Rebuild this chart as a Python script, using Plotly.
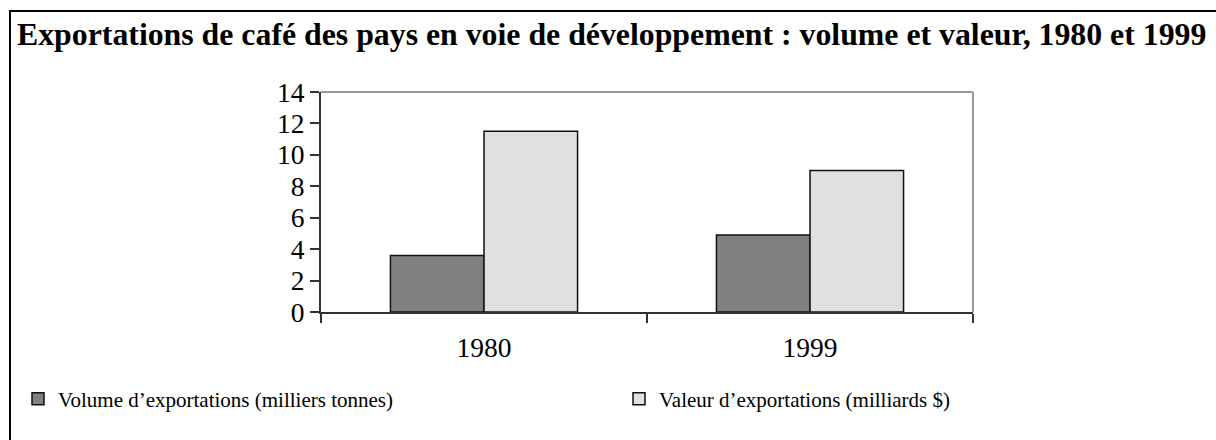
import plotly.graph_objects as go

categories = ["1980", "1999"]
volume = [3.6, 4.9]
valeur = [11.5, 9.0]
series_names = ["Volume d\u2019exportations (milliers tonnes)", "Valeur d\u2019exportations (milliards $)"]
title_text = "Exportations de café des pays en voie de développement : volume et valeur, 1980 et 1999"
y_ticks = [0, 2, 4, 6, 8, 10, 12, 14]

W, H = 1216, 440
L, R, T, B = 321, 243, 92, 128
pw, ph = W - L - R, H - T - B

def px_x(x):
    return (x - L) / pw

def px_y(y):
    return (H - B - y) / ph

serif = "Liberation Serif, Times New Roman, serif"

fig = go.Figure()
fig.add_trace(go.Bar(x=categories, y=volume, name=series_names[0], legend="legend",
                     marker=dict(color="#808080", line=dict(color="#111111", width=1.5))))
fig.add_trace(go.Bar(x=categories, y=valeur, name=series_names[1], legend="legend2",
                     marker=dict(color="#e0e0e0", line=dict(color="#111111", width=1.5))))

legend_common = dict(orientation="h", xanchor="left", yanchor="middle",
                     font=dict(family=serif, size=21, color="black"),
                     bgcolor="rgba(0,0,0,0)")

fig.update_layout(
    width=W, height=H,
    margin=dict(l=L, r=R, t=T, b=B),
    paper_bgcolor="white", plot_bgcolor="white",
    barmode="group", bargap=0.426, bargroupgap=0,
    font=dict(family=serif, color="black"),
    title=dict(text="<b>" + title_text + "</b>", xref="container", yref="container",
               x=17 / W, xanchor="left", y=1 - 34 / H, yanchor="middle",
               font=dict(family=serif, size=31.8, color="black")),
    xaxis=dict(type="category", showline=True, linecolor="#333333", linewidth=2,
               ticks="outside", tickson="boundaries", ticklen=9, tickwidth=2, tickcolor="#333333",
               tickfont=dict(family=serif, size=27.5, color="black"), showgrid=False,
               ticklabelstandoff=10, zeroline=False),
    yaxis=dict(range=[0, 14], tickvals=y_ticks, showline=True, linecolor="#333333", linewidth=2,
               ticks="outside", ticklen=9, tickwidth=2, tickcolor="#333333",
               tickfont=dict(family=serif, size=27.5, color="black"), showgrid=False, zeroline=False),
    showlegend=True,
    legend=dict(x=px_x(18), y=px_y(399), **legend_common),
    legend2=dict(x=px_x(619), y=px_y(399), **legend_common),
    shapes=[
        dict(type="line", xref="paper", yref="paper", x0=0, x1=1, y0=1, y1=1,
             line=dict(color="#999999", width=2)),
        dict(type="line", xref="paper", yref="paper", x0=1, x1=1, y0=0, y1=1,
             line=dict(color="#999999", width=2)),
        dict(type="line", xref="paper", yref="paper", x0=px_x(10), x1=px_x(10), y0=px_y(11), y1=px_y(445),
             line=dict(color="black", width=2)),
        dict(type="line", xref="paper", yref="paper", x0=px_x(9), x1=px_x(1220), y0=px_y(11), y1=px_y(11),
             line=dict(color="black", width=2)),
    ],
)

fig.write_html("out.html", config={"displayModeBar": False},
               post_script="document.body.style.margin='0';")
